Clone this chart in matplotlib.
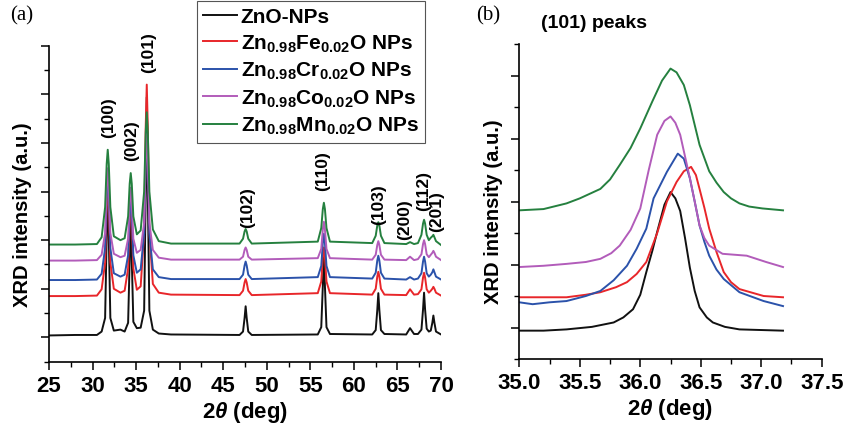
import matplotlib
matplotlib.use('Agg')
import matplotlib.pyplot as plt
from matplotlib.ticker import MultipleLocator

plt.rcParams['font.family'] = ['Liberation Sans', 'DejaVu Sans']
plt.rcParams['font.weight'] = 'bold'
plt.rcParams['mathtext.fontset'] = 'custom'
plt.rcParams['mathtext.rm'] = 'Liberation Sans:bold'
plt.rcParams['mathtext.bf'] = 'Liberation Sans:bold'
plt.rcParams['mathtext.it'] = 'Liberation Sans:bold:italic'

# ---- panel (a): full XRD patterns ----
two_theta_a = [25.0, 28.0, 30.5,
               31.04, 31.44, 31.62, 31.74, 31.86, 32.04, 32.44,
               33.2,
               33.68, 34.08, 34.26, 34.38, 34.50, 34.68, 35.08,
               35.52, 35.92, 36.10, 36.22, 36.34, 36.52, 36.92,
               37.6, 39.0,
               46.87, 47.27, 47.45, 47.57, 47.69, 47.87, 48.27,
               55.85, 56.25, 56.43, 56.55, 56.67, 56.85, 57.25,
               62.1, 62.5, 62.68, 62.8, 62.92, 63.1, 63.5,
               66.0, 66.44, 66.9,
               67.35, 67.75, 67.93, 68.05, 68.17, 68.35, 68.6,
               68.82, 69.0, 69.12, 69.24, 69.42, 70.0]

zno_a = [0.04, 0.05, 0.05,
         0.12, 0.40, 2.08, 3.44, 2.08, 0.40, 0.14,
         0.16,
         0.12, 0.30, 1.60, 2.64, 1.60, 0.32, 0.19,
         0.20, 0.55, 2.98, 4.94, 2.98, 0.55, 0.16,
         0.08, 0.06,
         0.05, 0.12, 0.40, 0.64, 0.40, 0.12, 0.05,
         0.06, 0.21, 1.06, 1.74, 1.06, 0.21, 0.07,
         0.06, 0.15, 0.56, 0.91, 0.56, 0.15, 0.07,
         0.06, 0.19, 0.07,
         0.07, 0.16, 0.57, 0.92, 0.57, 0.18, 0.12,
         0.14, 0.30, 0.45, 0.30, 0.12, 0.06]

fe_a = [0.85, 0.85, 0.86,
        0.99, 1.54, 2.69, 3.15, 2.69, 1.54, 1.00,
        0.92,
        0.96, 1.42, 2.37, 2.75, 2.37, 1.42, 0.98,
        1.05, 2.16, 4.33, 5.20, 4.33, 2.16, 1.10,
        0.92, 0.88,
        0.87, 0.96, 1.13, 1.20, 1.13, 0.96, 0.87,
        0.91, 1.15, 1.65, 1.85, 1.65, 1.15, 0.91,
        0.88, 1.00, 1.25, 1.35, 1.25, 1.00, 0.88,
        0.87, 0.99, 0.88,
        0.89, 0.99, 1.23, 1.33, 1.23, 0.99, 0.92,
        0.96, 1.00, 1.04, 1.00, 0.92, 0.86]

cr_a = [1.18, 1.18, 1.19,
        1.31, 1.84, 2.94, 3.38, 2.94, 1.84, 1.32,
        1.25,
        1.29, 1.69, 2.54, 2.88, 2.54, 1.69, 1.33,
        1.40, 2.14, 3.74, 4.38, 3.74, 2.14, 1.40,
        1.24, 1.20,
        1.20, 1.29, 1.48, 1.56, 1.48, 1.29, 1.20,
        1.24, 1.47, 1.94, 2.13, 1.94, 1.47, 1.24,
        1.21, 1.33, 1.58, 1.68, 1.58, 1.33, 1.21,
        1.19, 1.24, 1.19,
        1.21, 1.32, 1.56, 1.66, 1.56, 1.32, 1.25,
        1.29, 1.34, 1.40, 1.34, 1.25, 1.19]

co_a = [1.58, 1.58, 1.59,
        1.70, 2.15, 3.10, 3.48, 3.10, 2.15, 1.72,
        1.65,
        1.68, 2.03, 2.78, 3.08, 2.78, 2.03, 1.74,
        1.80, 2.36, 3.66, 4.18, 3.66, 2.36, 1.80,
        1.64, 1.60,
        1.60, 1.66, 1.80, 1.85, 1.80, 1.66, 1.60,
        1.63, 1.82, 2.22, 2.38, 2.22, 1.82, 1.63,
        1.60, 1.70, 1.90, 1.98, 1.90, 1.70, 1.60,
        1.59, 1.66, 1.59,
        1.61, 1.71, 1.92, 2.00, 1.92, 1.71, 1.65,
        1.70, 1.74, 1.78, 1.74, 1.66, 1.59]

mn_a = [1.91, 1.91, 1.92,
        2.06, 2.68, 3.57, 3.86, 3.57, 2.68, 2.08,
        2.00,
        2.04, 2.49, 3.16, 3.38, 3.16, 2.49, 2.12,
        2.20, 3.00, 4.22, 4.63, 4.22, 3.00, 2.22,
        1.98, 1.93,
        1.93, 2.03, 2.18, 2.23, 2.18, 2.03, 1.93,
        1.97, 2.25, 2.64, 2.77, 2.64, 2.25, 1.97,
        1.94, 2.09, 2.30, 2.37, 2.30, 2.09, 1.94,
        1.92, 1.96, 1.92,
        1.94, 2.11, 2.34, 2.42, 2.34, 2.11, 2.00,
        2.05, 2.08, 2.11, 2.06, 1.98, 1.90]

peak_labels = ['(100)', '(002)', '(101)', '(102)', '(110)', '(103)', '(200)', '(112)', '(201)']
peak_label_x = [31.8, 34.5, 36.4, 47.85, 56.35, 62.8, 65.85, 68.05, 69.45]
peak_label_y = [4.54, 4.07, 5.89, 2.70, 3.44, 2.76, 2.45, 3.03, 2.61]

# ---- panel (b): (101) peak zoom ----
zno_bx = [35.0, 35.2, 35.39, 35.6, 35.78, 35.86, 35.94, 36.0, 36.05, 36.1, 36.14, 36.2, 36.25,
          36.29, 36.33, 36.37, 36.41, 36.45, 36.49, 36.55, 36.6, 36.7, 36.82, 37.0, 37.18]
zno_by = [-0.05, -0.05, -0.03, 0.01, 0.08, 0.16, 0.29, 0.52, 0.88, 1.22, 1.52, 1.95, 2.15,
          2.05, 1.85, 1.42, 0.95, 0.58, 0.32, 0.16, 0.08, 0.01, -0.03, -0.04, -0.05]
fe_bx = [35.0, 35.2, 35.39, 35.55, 35.67, 35.8, 35.89, 35.97, 36.05, 36.14, 36.22, 36.30,
         36.36, 36.42, 36.46, 36.49, 36.53, 36.57, 36.63, 36.69, 36.75, 36.82, 37.02, 37.18]
fe_by = [0.48, 0.48, 0.48, 0.52, 0.56, 0.64, 0.72, 0.85, 1.04, 1.5, 2.0, 2.31,
         2.48, 2.55, 2.42, 2.2, 1.9, 1.57, 1.2, 0.88, 0.72, 0.61, 0.50, 0.48]
cr_bx = [35.0, 35.11, 35.25, 35.39, 35.55, 35.67, 35.78, 35.89, 35.97, 36.05, 36.11, 36.22,
         36.31, 36.36, 36.41, 36.45, 36.49, 36.53, 36.57, 36.63, 36.69, 36.82, 37.02, 37.18]
cr_by = [0.40, 0.37, 0.40, 0.42, 0.50, 0.58, 0.75, 0.98, 1.25, 1.57, 2.05, 2.47,
         2.76, 2.68, 2.37, 2.0, 1.62, 1.36, 1.14, 0.92, 0.77, 0.56, 0.42, 0.34]
co_bx = [35.0, 35.2, 35.39, 35.55, 35.67, 35.76, 35.83, 35.92, 36.0, 36.07, 36.14, 36.2, 36.25,
         36.29, 36.33, 36.41, 36.45, 36.49, 36.53, 36.57, 36.68, 36.88, 37.04, 37.18]
co_by = [0.96, 0.98, 1.01, 1.04, 1.09, 1.18, 1.30, 1.55, 1.89, 2.5, 3.06, 3.28, 3.35,
         3.25, 3.06, 2.37, 2.0, 1.62, 1.42, 1.30, 1.17, 1.14, 1.04, 0.96]
mn_bx = [35.0, 35.2, 35.39, 35.5, 35.67, 35.75, 35.83, 35.92, 36.0, 36.1, 36.18, 36.25, 36.3,
         36.36, 36.41, 36.49, 36.57, 36.63, 36.69, 36.75, 36.82, 36.9, 37.01, 37.18]
mn_by = [1.86, 1.88, 1.97, 2.05, 2.2, 2.35, 2.58, 2.85, 3.16, 3.59, 3.92, 4.11, 4.05,
         3.85, 3.53, 2.9, 2.48, 2.3, 2.15, 2.05, 1.97, 1.92, 1.89, 1.86]

names = ['ZnO-NPs',
         r'Zn$_{\mathbf{0.98}}$Fe$_{\mathbf{0.02}}$O NPs',
         r'Zn$_{\mathbf{0.98}}$Cr$_{\mathbf{0.02}}$O NPs',
         r'Zn$_{\mathbf{0.98}}$Co$_{\mathbf{0.02}}$O NPs',
         r'Zn$_{\mathbf{0.98}}$Mn$_{\mathbf{0.02}}$O NPs']
colors = ['#111111', '#e8262a', '#2b52aa', '#b25cba', '#25803f']


def style_axes(ax):
    for s in ['top', 'right']:
        ax.spines[s].set_visible(False)
    for s in ['left', 'bottom']:
        ax.spines[s].set_linewidth(1.2)
    ax.tick_params(which='major', direction='out', length=6, width=1.1, labelsize=16)
    ax.tick_params(which='minor', direction='out', length=3.5, width=1.0)
    ax.set_yticklabels([])
    ax.set_ylabel('XRD intensity (a.u.)', fontsize=14.5, fontweight='bold')
    ax.set_xlabel(r'2$\theta$ (deg)', fontsize=16, fontweight='bold', labelpad=2)


fig = plt.figure(figsize=(8.48, 4.35), dpi=100)

ax1 = fig.add_axes([0.0578, 0.1662, 0.4623, 0.7264])
lines = []
for y, c, n in zip([zno_a, fe_a, cr_a, co_a, mn_a], colors, names):
    l, = ax1.plot(two_theta_a, y, color=c, lw=1.4, label=n)
    lines.append(l)
ax1.set_xlim(25, 70)
ax1.set_ylim(-0.5, 6)
ax1.xaxis.set_major_locator(MultipleLocator(5))
ax1.xaxis.set_minor_locator(MultipleLocator(2.5))
ax1.yaxis.set_major_locator(MultipleLocator(1))
ax1.yaxis.set_minor_locator(MultipleLocator(0.5))
style_axes(ax1)
ax1.yaxis.set_label_coords(-0.043, 0.467)
for t, x, y in zip(peak_labels, peak_label_x, peak_label_y):
    ax1.text(x, y, t, rotation=90, ha='center', va='center', fontsize=12.5,
             fontweight='bold', clip_on=False)

leg = fig.legend(handles=lines, loc='upper left', bbox_to_anchor=(197 / 848, 1 - 2 / 435),
                 borderaxespad=0, fontsize=15, handlelength=1.6, handletextpad=0.2,
                 labelspacing=0.3, borderpad=0.3, fancybox=False, framealpha=1)
leg.get_frame().set_edgecolor('#555555')
leg.get_frame().set_linewidth(0.8)

ax2 = fig.add_axes([0.6124, 0.1724, 0.3566, 0.7241])
for x, y, c in zip([zno_bx, fe_bx, cr_bx, co_bx, mn_bx],
                   [zno_by, fe_by, cr_by, co_by, mn_by], colors):
    ax2.plot(x, y, color=c, lw=1.4)
ax2.set_xlim(35.0, 37.5)
ax2.set_ylim(-0.5, 4.5)
ax2.xaxis.set_major_locator(MultipleLocator(0.5))
ax2.xaxis.set_minor_locator(MultipleLocator(0.25))
ax2.yaxis.set_major_locator(MultipleLocator(1))
ax2.yaxis.set_minor_locator(MultipleLocator(0.5))
ax2.xaxis.set_major_formatter(plt.FormatStrFormatter('%.1f'))
style_axes(ax2)
ax2.yaxis.set_label_coords(-0.054, 0.47)

fig.text(10 / 848, 1 - 6 / 435, '(a)', family='Liberation Serif', fontweight='normal',
         fontsize=15, va='top', ha='left')
fig.text(476 / 848, 1 - 6 / 435, '(b)', family='Liberation Serif', fontweight='normal',
         fontsize=15, va='top', ha='left')
fig.text(541 / 848, 1 - 23 / 435, '(101) peaks', fontsize=14, fontweight='bold',
         va='center', ha='left')

fig.savefig('out.png', dpi=100)
